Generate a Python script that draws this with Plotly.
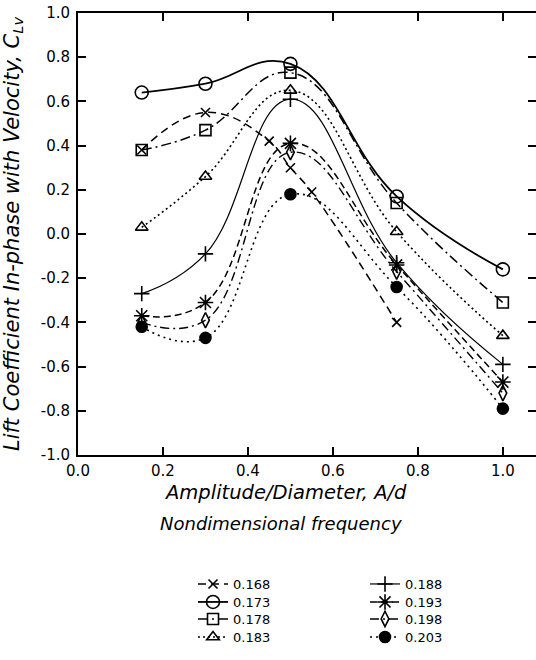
import plotly.graph_objects as go

# ---- data ----
ad = [0.15, 0.3, 0.5, 0.75, 1.0]
ad_168 = [0.15, 0.3, 0.45, 0.5, 0.55, 0.75]
c_168 = [0.38, 0.55, 0.42, 0.30, 0.19, -0.40]
c_173 = [0.64, 0.68, 0.77, 0.17, -0.16]
c_178 = [0.38, 0.47, 0.73, 0.14, -0.31]
c_183 = [0.03, 0.26, 0.65, 0.01, -0.46]
c_188 = [-0.27, -0.09, 0.61, -0.13, -0.59]
c_193 = [-0.37, -0.31, 0.41, -0.14, -0.67]
c_198 = [-0.40, -0.39, 0.37, -0.17, -0.72]
c_203 = [-0.42, -0.47, 0.18, -0.24, -0.79]

x_ticks = [0.0, 0.2, 0.4, 0.6, 0.8, 1.0]
y_ticks = [1.0, 0.8, 0.6, 0.4, 0.2, 0.0, -0.2, -0.4, -0.6, -0.8, -1.0]

series = [
    (ad_168, c_168, "0.168", "x-thin-open", 9, "8px,5px", 1.5),
    (ad, c_173, "0.173", "circle-open", 13, "solid", 1.8),
    (ad, c_178, "0.178", "square-open", 11, "10px,4px,2px,4px", 1.5),
    (ad, c_183, "0.183", "triangle-up-open", 11, "2px,3px", 1.6),
    (ad, c_188, "0.188", "cross-thin-open", 11, "solid", 1.2),
    (ad, c_193, "0.193", "asterisk-open", 13, "7px,4px", 1.5),
    (ad, c_198, "0.198", "diamond-tall-open", 11, "9px,4px,2px,4px", 1.4),
    (ad, c_203, "0.203", "circle", 11, "2px,4px", 1.6),
]

font_fam = "DejaVu Sans"

# plot area geometry (pixels) used to place legend entries and titles
T, B_PIX = 13, 455
PLOT_H = B_PIX - T
L, PLOT_W = 78, 536 - 78
row_pix = [584, 602, 619, 637]
col_pix = [193, 365]

def px_x(p):
    return (p - L) / PLOT_W

def px_y(p):
    return (B_PIX - p) / PLOT_H

fig = go.Figure()
legend_layouts = {}
for i, (xs, ys, name, sym, size, dash, lw) in enumerate(series):
    key = "legend" if i == 0 else f"legend{i + 1}"
    col, row = divmod(i, 4)
    fig.add_trace(go.Scatter(
        x=xs, y=ys, name=name, mode="lines+markers",
        line=dict(color="black", width=lw, dash=dash, shape="spline", smoothing=1.25),
        marker=dict(symbol=sym, size=size, color="black",
                    line=dict(color="black", width=1.6)),
        legend=key,
    ))
    legend_layouts[key] = dict(
        x=px_x(col_pix[col]), y=px_y(row_pix[row]),
        xanchor="left", yanchor="middle",
        font=dict(size=13), itemwidth=30, borderwidth=0,
        bgcolor="rgba(0,0,0,0)",
    )

fig.update_layout(
    width=536, height=660,
    margin=dict(l=L, r=0, t=T, b=660 - B_PIX),
    paper_bgcolor="white", plot_bgcolor="white",
    font=dict(family=font_fam, color="black", size=14),
    showlegend=True,
    annotations=[
        dict(text="<i>Amplitude/Diameter, A/d</i>", xref="paper", yref="paper",
             x=px_x(285), y=px_y(493), xanchor="center", yanchor="middle",
             showarrow=False, font=dict(size=19.5)),
        dict(text="<i>Nondimensional frequency</i>", xref="paper", yref="paper",
             x=px_x(281), y=px_y(523), xanchor="center", yanchor="middle",
             showarrow=False, font=dict(size=18)),
        dict(text="<b>Figure 5.  F</b>", xref="paper", yref="paper",
             x=px_x(2), y=px_y(655), xanchor="left", yanchor="top",
             showarrow=False, font=dict(size=16)),
    ],
    **legend_layouts,
)

fig.update_xaxes(
    range=[0, 1.078], tickvals=x_ticks, ticktext=[f"{v:.1f}" for v in x_ticks],
    ticks="inside", ticklen=8, tickwidth=1.5, tickcolor="black",
    showline=True, linecolor="black", linewidth=2, mirror="ticks",
    showgrid=False, zeroline=False, automargin=False,
    tickfont=dict(size=15), ticklabelstandoff=1,
)
fig.update_yaxes(
    range=[-1.0, 1.0], tickvals=y_ticks, ticktext=[f"{v:.1f}" for v in y_ticks],
    ticks="inside", ticklen=8, tickwidth=1.5, tickcolor="black",
    showline=True, linecolor="black", linewidth=2, mirror="ticks",
    showgrid=False, zeroline=False, automargin=False,
    tickfont=dict(size=15), ticklabelstandoff=3,
    title=dict(text="<i>Lift Coefficient In-phase with Velocity, C<sub>Lv</sub></i>",
               font=dict(size=21), standoff=26),
)

fig.write_html("out.html", post_script="document.body.style.margin='0';",
               config={"displayModeBar": False})
